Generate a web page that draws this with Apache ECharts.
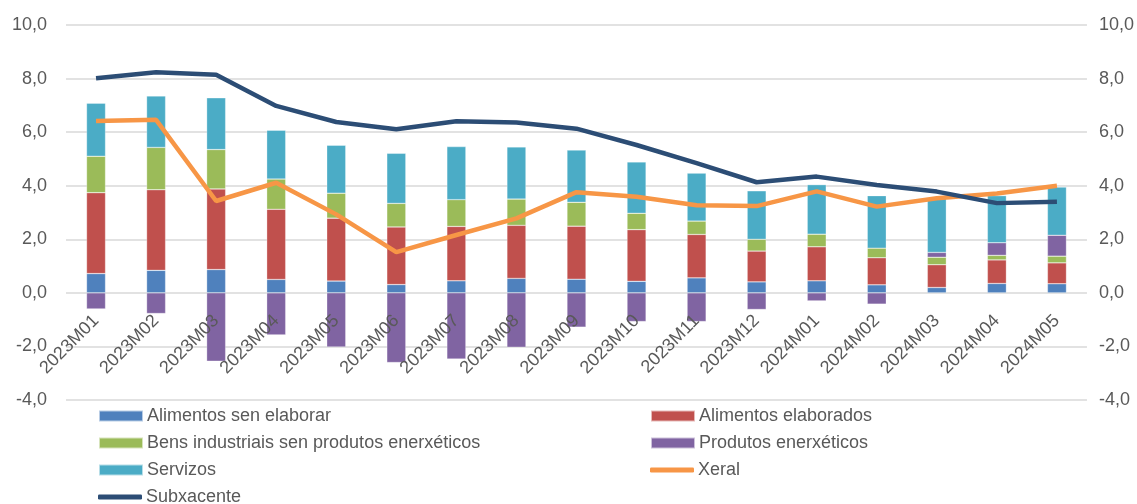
<!DOCTYPE html>
<html><head><meta charset="utf-8">
<script src="https://cdn.jsdelivr.net/npm/echarts@6/dist/echarts.min.js"></script>
<style>html,body{margin:0;padding:0;background:#fff}#c{width:1137px;height:504px}</style>
</head><body><div id="c"></div>
<script>
const categories = ['2023M01','2023M02','2023M03','2023M04','2023M05','2023M06','2023M07','2023M08','2023M09','2023M10','2023M11','2023M12','2024M01','2024M02','2024M03','2024M04','2024M05'];
const alimentosSenElaborar = [0.72,0.84,0.87,0.50,0.44,0.31,0.45,0.54,0.51,0.43,0.56,0.41,0.45,0.30,0.20,0.35,0.34];
const alimentosElaborados = [3.02,3.01,3.01,2.62,2.35,2.15,2.03,1.98,1.98,1.93,1.62,1.15,1.27,1.01,0.85,0.88,0.78];
const bensIndustriais = [1.36,1.58,1.47,1.13,0.93,0.88,1.00,0.98,0.89,0.61,0.50,0.44,0.47,0.36,0.28,0.17,0.25];
const produtosEnerxeticos = [-0.60,-0.77,-2.55,-1.57,-2.02,-2.60,-2.47,-2.03,-1.28,-1.07,-1.07,-0.62,-0.30,-0.42,0.18,0.47,0.78];
const servizos = [1.98,1.92,1.93,1.82,1.79,1.87,1.98,1.95,1.95,1.92,1.79,1.81,1.85,1.96,2.02,1.76,1.80];
const xeral = [6.42,6.46,3.43,4.11,2.93,1.52,2.16,2.78,3.76,3.59,3.27,3.24,3.79,3.22,3.53,3.71,4.00];
const subxacente = [8.01,8.24,8.14,6.98,6.38,6.11,6.41,6.36,6.13,5.52,4.84,4.13,4.34,4.03,3.78,3.35,3.40];
const yTicks = {min: -4, max: 10, interval: 2};

const txt = '#595959';
const font = 'Liberation Sans, Arial, sans-serif';
const fmt = v => v.toFixed(1).replace('.', ',');

const barDefs = [
  ['Alimentos sen elaborar', alimentosSenElaborar, '#4F81BD'],
  ['Alimentos elaborados', alimentosElaborados, '#C0504D'],
  ['Bens industriais sen produtos enerxéticos', bensIndustriais, '#9BBB59'],
  ['Produtos enerxéticos', produtosEnerxeticos, '#8064A2'],
  ['Servizos', servizos, '#4BACC6']
];
const lineDefs = [
  ['Xeral', xeral, '#F79646'],
  ['Subxacente', subxacente, '#2C4D75']
];

const series = barDefs.map(d => ({
  name: d[0], type: 'bar', stack: 'total', data: d[1], barWidth: 19, z: 2,
  itemStyle: {color: d[2], borderColor: 'rgba(255,255,255,0.6)', borderWidth: 0.5}
})).concat(lineDefs.map(d => ({
  name: d[0], type: 'line', data: d[1], symbol: 'none', z: 5,
  lineStyle: {color: d[2], width: 4.5}, itemStyle: {color: d[2]}
})));

const legendPos = [
  ['Alimentos sen elaborar', 98, 417, 'rect'],
  ['Alimentos elaborados', 650, 417, 'rect'],
  ['Bens industriais sen produtos enerxéticos', 98, 444, 'rect'],
  ['Produtos enerxéticos', 650, 444, 'rect'],
  ['Servizos', 98, 471, 'rect'],
  ['Xeral', 650, 471, 'line'],
  ['Subxacente', 98, 498, 'line']
];
const legends = legendPos.map(p => ({
  data: [p[0]], left: p[1], top: p[2] - 10,
  itemWidth: 44, itemHeight: p[3] === 'rect' ? 11 : 5, itemGap: 0,
  icon: p[3] === 'rect' ? 'rect' : 'roundRect',
  textStyle: {color: txt, fontSize: 18, fontFamily: font, padding: [0, 0, 0, -1]},
  padding: 0, selectedMode: false
}));

const chart = echarts.init(document.getElementById('c'));
chart.setOption({
  animation: false,
  textStyle: {fontFamily: font},
  grid: {left: 66, right: 46, top: 25, bottom: 104, containLabel: false},
  legend: legends,
  xAxis: {
    type: 'category', data: categories, z: 10,
    axisLine: {show: false, onZero: false},
    axisTick: {show: false},
    axisLabel: {rotate: 45, interval: 0, fontSize: 18, color: txt, fontFamily: font, margin: -82}
  },
  yAxis: [
    {type: 'value', min: yTicks.min, max: yTicks.max, interval: yTicks.interval,
     axisLabel: {formatter: fmt, fontSize: 18, color: txt, fontFamily: font, margin: 19},
     axisLine: {show: false}, axisTick: {show: false},
     splitLine: {lineStyle: {color: '#D9D9D9', width: 1.5}}},
    {type: 'value', position: 'right', min: yTicks.min, max: yTicks.max, interval: yTicks.interval,
     axisLabel: {formatter: fmt, fontSize: 18, color: txt, fontFamily: font, margin: 12},
     axisLine: {show: false}, axisTick: {show: false}, splitLine: {show: false}}
  ],
  series: series
});
</script></body></html>
